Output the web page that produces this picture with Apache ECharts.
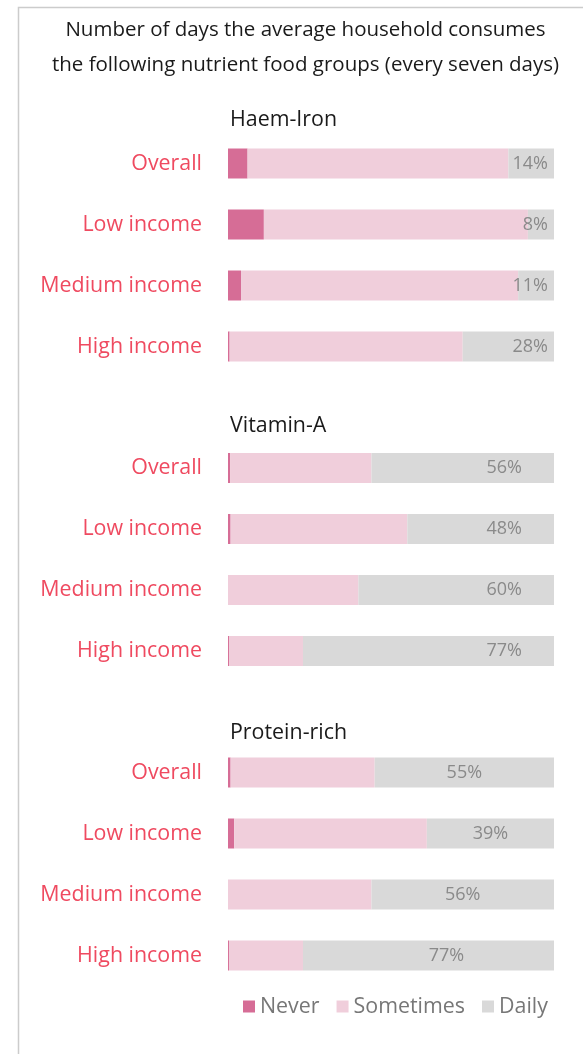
<!DOCTYPE html>
<html>
<head>
<meta charset="utf-8">
<script src="https://cdn.jsdelivr.net/npm/echarts@6/dist/echarts.min.js"></script>
<style>
html,body{margin:0;padding:0;background:#fff;}
#chart{width:583px;height:1054px;}
</style>
</head>
<body>
<div id="chart"></div>
<script>
const categories = ['Overall', 'Low income', 'Medium income', 'High income'];
const sectionTitles = ['Haem-Iron', 'Vitamin-A', 'Protein-rich'];
const seriesNames = ['Never', 'Sometimes', 'Daily'];

const haemNever = [6, 11, 4, 0.5];
const haemSometimes = [80, 81, 85, 71.5];
const haemDaily = [14, 8, 11, 28];
const haemLabels = ['14%', '8%', '11%', '28%'];

const vitANever = [0.7, 0.8, 0, 0.3];
const vitASometimes = [43.3, 54.2, 40, 22.7];
const vitADaily = [56, 45, 60, 77];
const vitALabels = ['56%', '48%', '60%', '77%'];

const protNever = [0.8, 1.9, 0, 0.3];
const protSometimes = [44.2, 59.1, 44, 22.7];
const protDaily = [55, 39, 56, 77];
const protLabels = ['55%', '39%', '56%', '77%'];

const FONT = '"Open Sans", "Noto Sans", sans-serif';
const FS = 21.4;
const colors = ['#d66d96', '#f0cedb', '#d9d9d9'];

const sections = [
  { never: haemNever, some: haemSometimes, daily: haemDaily, labels: haemLabels, top: 133, titleTop: 104, label: { position: 'insideRight', distance: 6 } },
  { never: vitANever, some: vitASometimes, daily: vitADaily, labels: vitALabels, top: 437.5, titleTop: 410, label: { position: 'insideRight', distance: 32 } },
  { never: protNever, some: protSometimes, daily: protDaily, labels: protLabels, top: 742, titleTop: 717, label: { position: 'inside' } }
];

const grids = [], xAxes = [], yAxes = [], series = [];
const titles = [{
  text: 'Number of days the average household consumes\nthe following nutrient food groups (every seven days)',
  left: 300.5, top: 7.5, textAlign: 'center',
  textStyle: { fontFamily: FONT, fontSize: 20.5, fontWeight: 'normal', color: '#1a1a1a', lineHeight: 35 }
}];

sections.forEach((s, i) => {
  grids.push({ left: 228, width: 326, top: s.top, height: 244 });
  xAxes.push({ type: 'value', gridIndex: i, min: 0, max: 100, show: false });
  yAxes.push({
    type: 'category', gridIndex: i, data: categories, inverse: true,
    axisLine: { show: false }, axisTick: { show: false }, splitLine: { show: false },
    axisLabel: { margin: 26, fontFamily: FONT, fontSize: FS, color: '#ef4a60' }
  });
  titles.push({
    text: sectionTitles[i], left: 225, top: s.titleTop,
    textStyle: { fontFamily: FONT, fontSize: FS, fontWeight: 'normal', color: '#1a1a1a' }
  });
  const parts = [s.never, s.some, s.daily];
  parts.forEach((arr, k) => {
    let data = arr;
    if (k === 2 && i === 2) {
      data = arr.map((v, j) => j === 3 ? { value: v, label: { offset: [18, 0] } } : v);
    }
    const ser = {
      name: seriesNames[k], type: 'bar', stack: 'st' + i,
      xAxisIndex: i, yAxisIndex: i, barWidth: 30,
      data: data, itemStyle: { color: colors[k] },
      emphasis: { disabled: true }, animation: false
    };
    if (k === 2) {
      ser.label = Object.assign({
        show: true, fontFamily: FONT, fontSize: 18, color: '#8a8a8a',
        formatter: p => s.labels[p.dataIndex]
      }, s.label);
    }
    series.push(ser);
  });
});

const chart = echarts.init(document.getElementById('chart'));
chart.setOption({
  animation: false,
  color: colors,
  title: titles,
  grid: grids,
  xAxis: xAxes,
  yAxis: yAxes,
  legend: {
    data: seriesNames, left: 238, top: 991, icon: 'rect',
    itemWidth: 12, itemHeight: 12, itemGap: 17,
    textStyle: { fontFamily: FONT, fontSize: FS, color: '#777' }
  },
  graphic: [{
    type: 'rect', shape: { x: 18.5, y: 7.5, width: 700, height: 1200 },
    style: { fill: 'none', stroke: '#cccccc', lineWidth: 1.5 }, silent: true
  }],
  series: series
});
</script>
</body>
</html>
